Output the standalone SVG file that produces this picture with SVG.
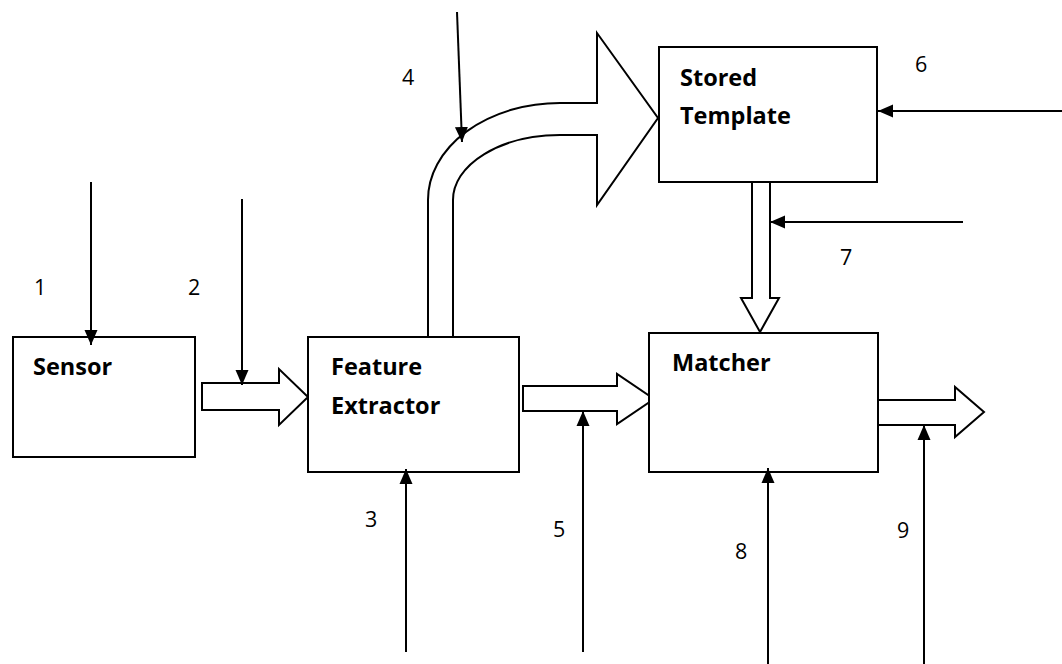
<svg xmlns="http://www.w3.org/2000/svg" width="1062" height="664" viewBox="0 0 1062 664">
  <defs>
    <marker id="tip" markerUnits="userSpaceOnUse" markerWidth="16" markerHeight="16" viewBox="0 0 16 16" refX="15" refY="8" orient="auto">
      <path d="M0,1.5 L15,8 L0,14.5 Z" fill="#000"/>
    </marker>
    <style>
      .box { fill: #fff; stroke: #000; stroke-width: 2; }
      .block { fill: #fff; stroke: #000; stroke-width: 2; stroke-linejoin: miter; }
      .wire { stroke: #000; stroke-width: 2; fill: none; marker-end: url(#tip); }
      .title { font-family: "Open Sans", "Liberation Sans", sans-serif; font-weight: bold; font-size: 23.5px; fill: #000; }
      .num { font-family: "Open Sans", "Liberation Sans", sans-serif; font-size: 21.5px; fill: #000; }
    </style>
  </defs>
  <rect width="1062" height="664" fill="#fff"/>

  <!-- block arrows between stages -->
  <g id="flows">
    <path class="block" d="M202,383 H279 V369 L308,397 L279,425 V410 H202 Z"/>
    <path class="block" d="M523,386 H617 V374 L654,399 L617,424 V411 H523 Z"/>
    <path class="block" d="M878,400 H955 V387 L984,412 L955,437 V425 H878 Z"/>
    <path class="block" d="M752,182 V298 H741 L760,332 L779,298 H770 V182 Z"/>
    <path class="block" d="M428,337 V200 A132,97 0 0 1 560,103 H597 V33 L658,118 L597,205 V135 H560 A107,65 0 0 0 453,200 V337 Z"/>
  </g>

  <g id="sensor">
    <rect class="box" x="13" y="337" width="182" height="120"/>
    <text class="title" x="33" y="375">Sensor</text>
  </g>

  <g id="feature-extractor">
    <rect class="box" x="308" y="337" width="211" height="135"/>
    <text class="title" x="331" y="375">Feature</text>
    <text class="title" x="331" y="414">Extractor</text>
  </g>

  <g id="stored-template">
    <rect class="box" x="659" y="47" width="218" height="135"/>
    <text class="title" x="680" y="86">Stored</text>
    <text class="title" x="680" y="124">Template</text>
  </g>

  <g id="matcher">
    <rect class="box" x="649" y="333" width="229" height="139"/>
    <text class="title" x="672" y="371">Matcher</text>
  </g>

  <!-- attack-point lines -->
  <g id="connectors">
    <line class="wire" x1="91" y1="182" x2="91" y2="345"/>
    <line class="wire" x1="242" y1="199" x2="242" y2="385"/>
    <line class="wire" x1="406" y1="652" x2="406" y2="469"/>
    <line class="wire" x1="457" y1="12" x2="462" y2="142"/>
    <line class="wire" x1="583" y1="652" x2="583" y2="411"/>
    <line class="wire" x1="1062" y1="111" x2="878" y2="111"/>
    <line class="wire" x1="963" y1="222" x2="770" y2="222"/>
    <line class="wire" x1="768" y1="664" x2="768" y2="468"/>
    <line class="wire" x1="924" y1="664" x2="924" y2="425"/>
  </g>

  <g id="labels">
    <text class="num" x="34" y="295">1</text>
    <text class="num" x="188" y="295">2</text>
    <text class="num" x="365" y="527">3</text>
    <text class="num" x="402" y="85">4</text>
    <text class="num" x="553" y="537">5</text>
    <text class="num" x="915" y="72">6</text>
    <text class="num" x="840" y="265">7</text>
    <text class="num" x="735" y="559">8</text>
    <text class="num" x="897" y="538">9</text>
  </g>
</svg>
